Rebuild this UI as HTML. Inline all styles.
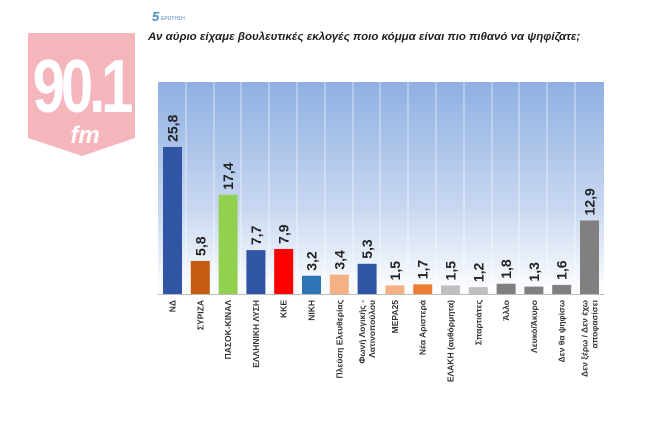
<!DOCTYPE html>
<html><head><meta charset="utf-8"><style>
html,body{margin:0;padding:0;background:#fff;width:650px;height:428px;overflow:hidden}
svg{display:block}
</style></head><body>
<svg width="650" height="428" viewBox="0 0 650 428" xmlns="http://www.w3.org/2000/svg" font-family="Liberation Sans, DejaVu Sans, sans-serif">
<defs>
<linearGradient id="bg" x1="0" y1="0" x2="0" y2="1">
<stop offset="0" stop-color="#8fb0e2"/><stop offset="0.6" stop-color="#c9d8f1"/><stop offset="1" stop-color="#ffffff"/>
</linearGradient>
</defs>
<polygon points="28,33 135,33 135,138 82,156 28,138" fill="#f4b6bb"/>
<text x="81" y="112" text-anchor="middle" font-size="58" font-weight="bold" fill="#fff" letter-spacing="-4" transform="scale(1,1.3) translate(0,-26)">90.1</text>
<text x="85" y="143" text-anchor="middle" font-size="24" font-weight="bold" font-style="italic" fill="#fff">fm</text>
<text x="152" y="21" font-size="13" font-style="italic" font-weight="bold" fill="#4a8cc8">5</text>
<text x="161" y="20" font-size="5" fill="#4a8cc8">ΕΡΩΤΗΣΗ</text>
<text x="148" y="40" font-size="11.5" font-style="italic" font-weight="bold" fill="#222">Αν αύριο είχαμε βουλευτικές εκλογές ποιο κόμμα είναι πιο πιθανό να ψηφίζατε;</text>
<rect x="158" y="82" width="446" height="212" fill="url(#bg)"/>
<g stroke="#ffffff" stroke-opacity="0.6" stroke-width="1">
<line x1="186" y1="82" x2="186" y2="300"/><line x1="214" y1="82" x2="214" y2="300"/><line x1="241" y1="82" x2="241" y2="300"/><line x1="269" y1="82" x2="269" y2="300"/><line x1="297" y1="82" x2="297" y2="300"/><line x1="325" y1="82" x2="325" y2="300"/><line x1="353" y1="82" x2="353" y2="300"/><line x1="380" y1="82" x2="380" y2="300"/><line x1="408" y1="82" x2="408" y2="300"/><line x1="436" y1="82" x2="436" y2="300"/><line x1="464" y1="82" x2="464" y2="300"/><line x1="492" y1="82" x2="492" y2="300"/><line x1="519" y1="82" x2="519" y2="300"/><line x1="547" y1="82" x2="547" y2="300"/><line x1="575" y1="82" x2="575" y2="300"/>
</g>
<line x1="158" y1="294.5" x2="604" y2="294.5" stroke="#bbb"/>
<g id="bars"></g>
<g id="lbl" font-weight="bold" font-size="14" fill="#222"></g>
<g id="cat" font-size="8.5" font-weight="bold" fill="#333" text-anchor="end"></g>
</svg>
<script>
var d=[["ΝΔ",25.8,"#2f55a4"],["ΣΥΡΙΖΑ",5.8,"#c55a11"],["ΠΑΣΟΚ-ΚΙΝΑΛ",17.4,"#92d050"],["ΕΛΛΗΝΙΚΗ ΛΥΣΗ",7.7,"#2f55a4"],["ΚΚΕ",7.9,"#ff0000"],["ΝΙΚΗ",3.2,"#2e75b6"],["Πλεύση Ελευθερίας",3.4,"#f4b183"],["Φωνή Λογικής -|Λατινοπούλου",5.3,"#2f55a4"],["ΜΕΡΑ25",1.5,"#f4b183"],["Νέα Αριστερά",1.7,"#ed7d31"],["ΕΛΑΚΗ  (αυθόρμητα)",1.5,"#bfbfbf"],["Σπαρτιάτες",1.2,"#bfbfbf"],["Άλλο",1.8,"#808080"],["Λευκό/Άκυρο",1.3,"#808080"],["Δεν θα ψηφίσω",1.6,"#808080"],["Δεν ξέρω / Δεν έχω|αποφασίσει",12.9,"#808080"]];
var ns="http://www.w3.org/2000/svg",B=document.getElementById("bars"),L=document.getElementById("lbl"),C=document.getElementById("cat");
function el(p,t,a,tx){var e=document.createElementNS(ns,t);for(var k in a)e.setAttribute(k,a[k]);if(tx)e.textContent=tx;p.appendChild(e);return e;}
d.forEach(function(r,i){var x=163+27.8*i,h=r[1]*5.7,y=294-h,cx=x+9.5;
el(B,"rect",{x:x,y:y,width:19,height:h,fill:r[2]});
el(L,"text",{x:0,y:0,transform:"translate("+(cx+5)+","+(y-5)+") rotate(-90)"},r[1].toFixed(1).replace(".",","));
var parts=r[0].split("|");
parts.forEach(function(p,j){var off=parts.length==1?3:(j==0?-2:8);
el(C,"text",{x:0,y:0,transform:"translate("+(cx+off)+",300) rotate(-90)"},p);});
});
</script>
</body></html>
